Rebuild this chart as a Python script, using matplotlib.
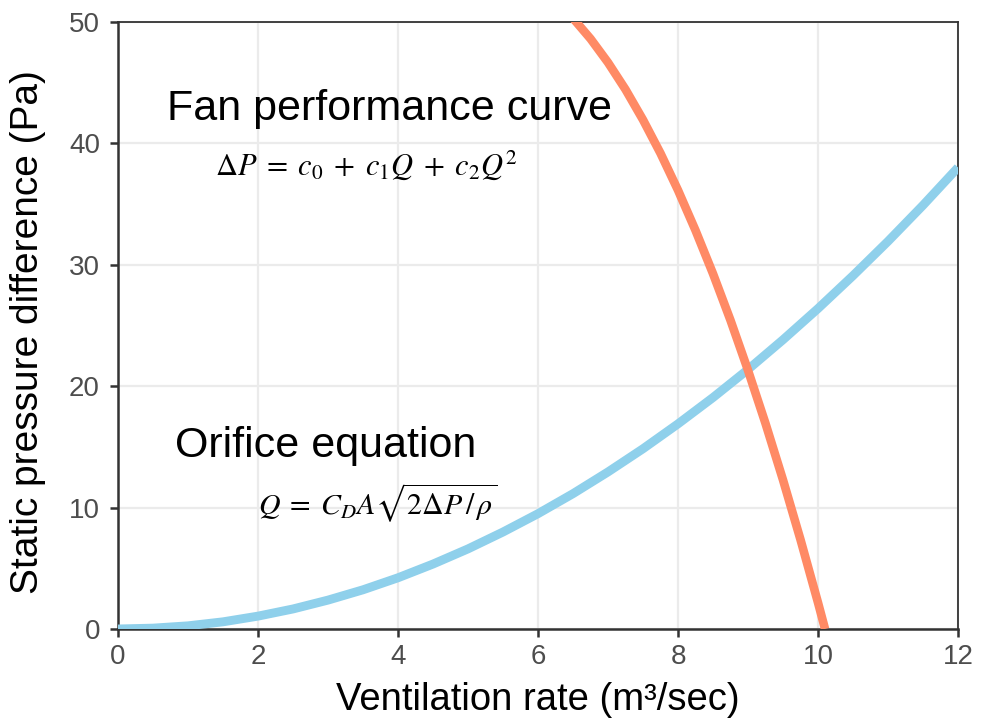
import matplotlib
matplotlib.use("Agg")
import matplotlib.pyplot as plt

plt.rcParams['font.family'] = ['Liberation Sans', 'DejaVu Sans']
plt.rcParams['mathtext.fontset'] = 'stix'

# Orifice curve (system resistance)
orifice_q = [0, 0.5, 1, 1.5, 2, 2.5, 3, 3.5, 4, 4.5, 5, 5.5, 6, 6.5,
             7, 7.5, 8, 8.5, 9, 9.5, 10, 10.5, 11, 11.5, 12]
orifice_dp = [0, 0.07, 0.26, 0.59, 1.06, 1.65, 2.38, 3.23, 4.22, 5.35, 6.6,
              7.99, 9.5, 11.15, 12.94, 14.85, 16.9, 19.07, 21.38, 23.83,
              26.4, 29.11, 31.94, 34.91, 38.02]

# Fan performance curve
fan_q = [6.25, 6.5, 6.75, 7.0, 7.25, 7.5, 7.75, 8.0, 8.25, 8.5, 8.75,
         9.0, 9.25, 9.5, 9.75, 10.0, 10.1]
fan_dp = [51.73, 50.31, 48.62, 46.66, 44.44, 41.94, 39.18, 36.14, 32.83,
          29.26, 25.42, 21.30, 16.92, 12.27, 7.35, 2.16, 0.0]

x_ticks = [0, 2, 4, 6, 8, 10, 12]
y_ticks = [0, 10, 20, 30, 40, 50]

fig = plt.figure(figsize=(9.81, 7.2), dpi=100)
ax = fig.add_axes([0.1203, 0.1264, 0.8563, 0.843])

ax.plot(orifice_q, orifice_dp, color='#8FD0EB', lw=6.4,
        solid_capstyle='butt', solid_joinstyle='round', zorder=3)
ax.plot(fan_q, fan_dp, color='#FF8A65', lw=6.2,
        solid_capstyle='butt', solid_joinstyle='round', zorder=3)

ax.set_xlim(0, 12)
ax.set_ylim(0, 50)
ax.set_xticks(x_ticks)
ax.set_yticks(y_ticks)
ax.grid(True, color='#EBEBEB', lw=1.6, zorder=0)
ax.set_axisbelow(True)

for side in ['left', 'bottom', 'top', 'right']:
    ax.spines[side].set_color('#333333')
    ax.spines[side].set_linewidth(1.3)
ax.spines['left'].set_linewidth(1.8)
ax.spines['bottom'].set_linewidth(1.8)

ax.tick_params(axis='both', length=6, width=1.8, color='#333333',
               labelsize=20, labelcolor='#4D4D4D')
ax.tick_params(axis='x', pad=5)
ax.tick_params(axis='y', pad=7)

ax.set_xlabel('Ventilation rate (m³/sec)', fontsize=27.5, color='black')
ax.set_ylabel('Static pressure difference (Pa)', fontsize=28, color='black')
ax.xaxis.set_label_coords(0.5, -0.088)
ax.yaxis.set_label_coords(-0.086, 0.49)

ax.text(0.70, 41.9, 'Fan performance curve', fontsize=31, va='baseline', ha='left')
ax.text(1.39, 37.4, r'$\Delta P\;=\;c_0\;+\;c_1 Q\;+\;c_2 Q^2$',
        fontsize=22, va='baseline', ha='left')
ax.text(0.82, 14.2, 'Orifice equation', fontsize=31, va='baseline', ha='left')
ax.text(2.0, 9.4, r'$Q\;=\;C_D A\sqrt{2\Delta P\,/\,\rho}$',
        fontsize=21.5, va='baseline', ha='left')

fig.savefig('out.png', dpi=100)
